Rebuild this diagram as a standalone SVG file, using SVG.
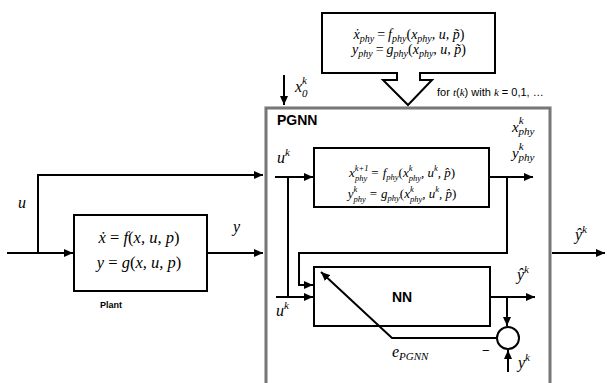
<svg xmlns="http://www.w3.org/2000/svg" width="607" height="383" viewBox="0 0 607 383">
<defs>
<marker id="ah" markerUnits="userSpaceOnUse" markerWidth="9" markerHeight="8" refX="9" refY="4" orient="auto"><path d="M0,0 L9,4 L0,8 z" fill="#000"/></marker>
<style>
.m{font-family:"Liberation Serif","DejaVu Serif",serif;font-style:italic;fill:#000}
.s{font-family:"Liberation Sans",Arial,sans-serif;fill:#000}
.b{font-family:"Liberation Sans",Arial,sans-serif;font-weight:bold;fill:#000}
.box{fill:#fff;stroke:#000;stroke-width:2}
.c{fill:none;stroke:#000;stroke-width:2}
.a{fill:none;stroke:#000;stroke-width:2;marker-end:url(#ah)}
.up{font-style:normal}
</style>
</defs>
<rect width="607" height="383" fill="#fff"/>

<g id="pgnn">
<rect x="266" y="108" width="284" height="300" fill="none" stroke="#a0a0a0" stroke-width="3.5"/>
<rect x="266" y="108" width="284" height="300" fill="none" stroke="#505050" stroke-width="1"/>
<text class="b" x="277" y="125" font-size="14">PGNN</text>
</g>

<g id="phys-model">
<path class="box" d="M397,73 H322 V13 H495 V73 H420 V80 H432 L408,105 L383,80 H397 Z" stroke-width="1.6"/>
<text class="m" x="409" y="39" font-size="14" text-anchor="middle">ẋ<tspan font-size="10" dy="2.5">phy</tspan><tspan dy="-2.5" dx="3" class="up">=</tspan><tspan dx="3">f</tspan><tspan font-size="10" dy="2.5">phy</tspan><tspan dy="-2.5" class="up">(</tspan><tspan>x</tspan><tspan font-size="10" dy="2.5">phy</tspan><tspan dy="-2.5">, u, p̃</tspan><tspan class="up">)</tspan></text>
<text class="m" x="409" y="54" font-size="14" text-anchor="middle">y<tspan font-size="10" dy="2.5">phy</tspan><tspan dy="-2.5" dx="3" class="up">=</tspan><tspan dx="3">g</tspan><tspan font-size="10" dy="2.5">phy</tspan><tspan dy="-2.5" class="up">(</tspan><tspan>x</tspan><tspan font-size="10" dy="2.5">phy</tspan><tspan dy="-2.5">, u, p̃</tspan><tspan class="up">)</tspan></text>
<text class="s" x="437" y="96" font-size="11">for <tspan class="m">t</tspan>(<tspan class="m">k</tspan>) with <tspan class="m">k</tspan> = 0,1, …</text>
</g>

<g id="plant">
<rect class="box" x="74" y="215" width="133" height="76"/>
<text class="m" x="139" y="243" font-size="16.5" text-anchor="middle">ẋ <tspan class="up">=</tspan> f<tspan class="up">(</tspan>x, u, p<tspan class="up">)</tspan></text>
<text class="m" x="139" y="268" font-size="16.5" text-anchor="middle">y <tspan class="up">=</tspan> g<tspan class="up">(</tspan>x, u, p<tspan class="up">)</tspan></text>
<text class="b" x="100" y="308" font-size="9">Plant</text>
</g>

<g id="phy-block">
<rect class="box" x="314" y="148" width="175" height="59"/>
<text class="m" x="402" y="177" font-size="13" text-anchor="middle">x<tspan font-size="8.5" dy="-6">k+1</tspan><tspan font-size="8.5" dx="-13.5" dy="9.5">phy</tspan><tspan dy="-3.5" dx="4" class="up">=</tspan><tspan dx="4">f</tspan><tspan font-size="8.5" dy="2.5">phy</tspan><tspan dy="-2.5" class="up">(</tspan>x<tspan font-size="8.5" dy="-6">k</tspan><tspan font-size="8.5" dx="-3.8" dy="9.5">phy</tspan><tspan dy="-3.5">, u</tspan><tspan font-size="8.5" dy="-6">k</tspan><tspan dy="6">, p̂</tspan><tspan class="up">)</tspan></text>
<text class="m" x="402" y="198" font-size="13" text-anchor="middle">y<tspan font-size="8.5" dy="-6">k</tspan><tspan font-size="8.5" dx="-3.8" dy="9.5">phy</tspan><tspan dy="-3.5" dx="4" class="up">=</tspan><tspan dx="4">g</tspan><tspan font-size="8.5" dy="2.5">phy</tspan><tspan dy="-2.5" class="up">(</tspan>x<tspan font-size="8.5" dy="-6">k</tspan><tspan font-size="8.5" dx="-3.8" dy="9.5">phy</tspan><tspan dy="-3.5">, u</tspan><tspan font-size="8.5" dy="-6">k</tspan><tspan dy="6">, p̂</tspan><tspan class="up">)</tspan></text>
</g>

<g id="nn">
<rect class="box" x="314" y="267" width="176" height="59"/>
<text class="b" x="402" y="302" font-size="14" text-anchor="middle">NN</text>
</g>

<g id="sum">
<circle cx="508" cy="338" r="11" fill="#fff" stroke="#000" stroke-width="2"/>
</g>

<g id="connectors">
<path class="a" d="M7,253 H73"/>
<path class="a" d="M38,253 V175 H263"/>
<path class="a" d="M207,253 H263"/>
<path class="a" d="M284,75 V105"/>
<path class="a" d="M275,177 H313"/>
<path class="c" d="M288,177 V297"/>
<path class="a" d="M276,297 H313"/>
<path class="a" d="M490,177 H533"/>
<path class="a" d="M507,177 V253 H299 V285 H313"/>
<path class="a" d="M490,297 H535"/>
<path class="a" d="M507,297 V326"/>
<path class="a" d="M497,338 H392 L321,272"/>
<path class="a" d="M508,372 V350"/>
<path class="a" d="M552,253 H605"/>
</g>

<g id="labels">
<text class="m" x="18" y="208" font-size="16">u</text>
<text class="m" x="233" y="232" font-size="16">y</text>
<text class="m" x="295" y="92" font-size="16">x<tspan font-size="11" dy="-8">k</tspan><tspan font-size="11" dx="-5" dy="13">0</tspan></text>
<text class="m" x="512" y="132" font-size="15">x<tspan font-size="11" dy="-8">k</tspan><tspan font-size="11" dx="-5" dy="11">phy</tspan></text>
<text class="m" x="512" y="158" font-size="15">y<tspan font-size="11" dy="-8">k</tspan><tspan font-size="11" dx="-5" dy="11">phy</tspan></text>
<text class="m" x="277" y="163" font-size="16">u<tspan font-size="11" dy="-7">k</tspan></text>
<text class="m" x="276" y="316" font-size="16">u<tspan font-size="11" dy="-7">k</tspan></text>
<text class="m" x="517" y="280" font-size="16">ŷ<tspan font-size="11" dy="-7">k</tspan></text>
<text class="m" x="575" y="240" font-size="16">ŷ<tspan font-size="11" dy="-7">k</tspan></text>
<text class="m" x="392" y="357" font-size="16">e<tspan font-size="11" dy="3">PGNN</tspan></text>
<text class="s" x="482" y="355" font-size="13">−</text>
<text class="m" x="518" y="368" font-size="16">y<tspan font-size="11" dy="-7">k</tspan></text>
</g>
</svg>
